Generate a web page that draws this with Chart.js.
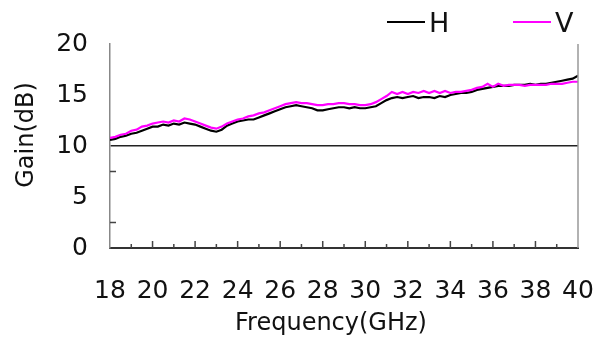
<!DOCTYPE html>
<html>
<head>
<meta charset="utf-8">
<script src="https://cdn.jsdelivr.net/npm/chart.js@4/dist/chart.umd.min.js"></script>
<style>
  html, body { margin: 0; padding: 0; background: #fff; }
  #wrap { width: 597px; height: 338px; }
</style>
</head>
<body>
<div id="wrap"><canvas id="grafico"></canvas></div>
<script>
// frequência (GHz), passo de 0.25
const freqs = [
  18, 18.25, 18.5, 18.75, 19, 19.25, 19.5, 19.75, 20, 20.25, 20.5, 20.75,
  21, 21.25, 21.5, 21.75, 22, 22.25, 22.5, 22.75, 23, 23.25, 23.5, 23.75,
  24, 24.25, 24.5, 24.75, 25, 25.25, 25.5, 25.75, 26, 26.25, 26.5, 26.75,
  27, 27.25, 27.5, 27.75, 28, 28.25, 28.5, 28.75, 29, 29.25, 29.5, 29.75,
  30, 30.25, 30.5, 30.75, 31, 31.25, 31.5, 31.75, 32, 32.25, 32.5, 32.75,
  33, 33.25, 33.5, 33.75, 34, 34.25, 34.5, 34.75, 35, 35.25, 35.5, 35.75,
  36, 36.25, 36.5, 36.75, 37, 37.25, 37.5, 37.75, 38, 38.25, 38.5, 38.75,
  39, 39.25, 39.5, 39.75, 40
];

const ganhoH = [
  10.6, 10.7, 10.9, 11.0, 11.2, 11.3, 11.5, 11.7, 11.9, 11.9, 12.1, 12.0,
  12.2, 12.1, 12.3, 12.2, 12.1, 11.9, 11.7, 11.5, 11.4, 11.6, 12.0, 12.2,
  12.4, 12.5, 12.6, 12.6, 12.8, 13.0, 13.2, 13.4, 13.6, 13.8, 13.9, 14.0,
  13.9, 13.8, 13.7, 13.5, 13.5, 13.6, 13.7, 13.8, 13.8, 13.7, 13.8, 13.7,
  13.7, 13.8, 13.9, 14.2, 14.5, 14.7, 14.8, 14.7, 14.8, 14.9, 14.7, 14.8,
  14.8, 14.7, 14.9, 14.8, 15.0, 15.1, 15.2, 15.2, 15.3, 15.5, 15.6, 15.7,
  15.8, 15.9, 15.9, 15.9, 16.0, 16.0, 16.0, 16.1, 16.0, 16.1, 16.1, 16.2,
  16.3, 16.4, 16.5, 16.6, 16.9
];

const ganhoV = [
  10.8, 10.9, 11.1, 11.2, 11.5, 11.6, 11.9, 12.0, 12.2, 12.3, 12.4, 12.3,
  12.5, 12.4, 12.7, 12.6, 12.4, 12.2, 12.0, 11.8, 11.7, 11.9, 12.2, 12.4,
  12.6, 12.7, 12.9, 13.0, 13.2, 13.3, 13.5, 13.7, 13.9, 14.1, 14.2, 14.3,
  14.2, 14.2, 14.1, 14.0, 14.0, 14.1, 14.1, 14.2, 14.2, 14.1, 14.1, 14.0,
  14.0, 14.1, 14.3, 14.6, 14.9, 15.3, 15.1, 15.3, 15.1, 15.3, 15.2, 15.4,
  15.2, 15.4, 15.2, 15.4, 15.2, 15.3, 15.3, 15.4, 15.5, 15.7, 15.8, 16.1,
  15.8, 16.1, 15.9, 16.0, 16.0, 16.0, 15.9, 16.0, 16.0, 16.0, 16.0, 16.1,
  16.1, 16.1, 16.2, 16.3, 16.3
];

const xMinorTicks = [19, 21, 23, 25, 27, 29, 31, 33, 35, 37, 39];
const xMajorTicks = [20, 22, 24, 26, 28, 30, 32, 34, 36, 38];
const yMinorTicks = [2.5, 7.5];

const FONTE = "'DejaVu Sans', sans-serif";

// tracinhos para dentro, borda direita, títulos e legenda
const extras = {
  id: "extras",
  afterDraw(chart) {
    const { ctx, chartArea: a, scales } = chart;
    ctx.save();

    ctx.strokeStyle = "#999";
    ctx.lineWidth = 1.5;
    ctx.beginPath();
    ctx.moveTo(a.right, a.top);
    ctx.lineTo(a.right, a.bottom);
    ctx.stroke();

    ctx.strokeStyle = "#444";
    ctx.lineWidth = 1.5;
    ctx.beginPath();
    xMajorTicks.forEach(v => {
      const px = scales.x.getPixelForValue(v);
      ctx.moveTo(px, a.bottom);
      ctx.lineTo(px, a.bottom - 7);
    });
    xMinorTicks.forEach(v => {
      const px = scales.x.getPixelForValue(v);
      ctx.moveTo(px, a.bottom);
      ctx.lineTo(px, a.bottom - 4);
    });
    yMinorTicks.forEach(v => {
      const py = scales.y.getPixelForValue(v);
      ctx.moveTo(a.left, py);
      ctx.lineTo(a.left + 6, py);
    });
    ctx.stroke();

    ctx.fillStyle = "#111";
    ctx.font = "24px " + FONTE;
    ctx.textAlign = "center";
    ctx.textBaseline = "alphabetic";
    ctx.fillText("Frequency(GHz)", (a.left + a.right) / 2 - 13, 330);

    ctx.save();
    ctx.translate(33, (a.top + a.bottom) / 2 - 11);
    ctx.rotate(-Math.PI / 2);
    ctx.fillText("Gain(dB)", 0, 0);
    ctx.restore();

    // legenda
    const itens = [
      { ds: chart.data.datasets[0], x0: 387 },
      { ds: chart.data.datasets[1], x0: 513 }
    ];
    ctx.font = "27px " + FONTE;
    ctx.textAlign = "left";
    itens.forEach(it => {
      ctx.strokeStyle = it.ds.borderColor;
      ctx.lineWidth = 2;
      ctx.beginPath();
      ctx.moveTo(it.x0, 22);
      ctx.lineTo(it.x0 + 38, 22);
      ctx.stroke();
      ctx.fillStyle = "#111";
      ctx.fillText(it.ds.label, it.x0 + 42, 32);
    });

    ctx.restore();
  }
};

new Chart(document.getElementById("grafico"), {
  type: "line",
  data: {
    datasets: [
      {
        label: "H",
        data: freqs.map((f, i) => ({ x: f, y: ganhoH[i] })),
        borderColor: "#000000",
        borderWidth: 2.2,
        pointRadius: 0,
        tension: 0,
        order: 1
      },
      {
        label: "V",
        data: freqs.map((f, i) => ({ x: f, y: ganhoV[i] })),
        borderColor: "#ff00ff",
        borderWidth: 2.2,
        pointRadius: 0,
        tension: 0,
        order: 0
      }
    ]
  },
  options: {
    responsive: true,
    maintainAspectRatio: false,
    animation: false,
    layout: { padding: { top: 44, right: 19, left: 0, bottom: 0 } },
    plugins: {
      legend: { display: false },
      tooltip: { enabled: false }
    },
    scales: {
      x: {
        type: "linear",
        min: 18,
        max: 40,
        afterFit: s => { s.height = 90; s.paddingLeft = 0; s.paddingRight = 0; },
        ticks: {
          stepSize: 2,
          color: "#111",
          font: { family: FONTE, size: 25 },
          padding: 28,
          maxRotation: 0
        },
        grid: { display: false, drawTicks: false },
        border: { display: true, color: "#333", width: 2 }
      },
      y: {
        min: 0,
        max: 20,
        afterFit: s => { s.width = 110; s.paddingTop = 0; s.paddingBottom = 0; },
        ticks: {
          stepSize: 5,
          color: "#111",
          font: { family: FONTE, size: 25 },
          padding: 22
        },
        grid: {
          drawTicks: false,
          color: c => (c.tick && c.tick.value === 10 ? "#222" : "rgba(0,0,0,0)"),
          lineWidth: 1.5
        },
        border: { display: true, color: "#888", width: 1.5 }
      }
    }
  },
  plugins: [extras]
});
</script>
</body>
</html>
